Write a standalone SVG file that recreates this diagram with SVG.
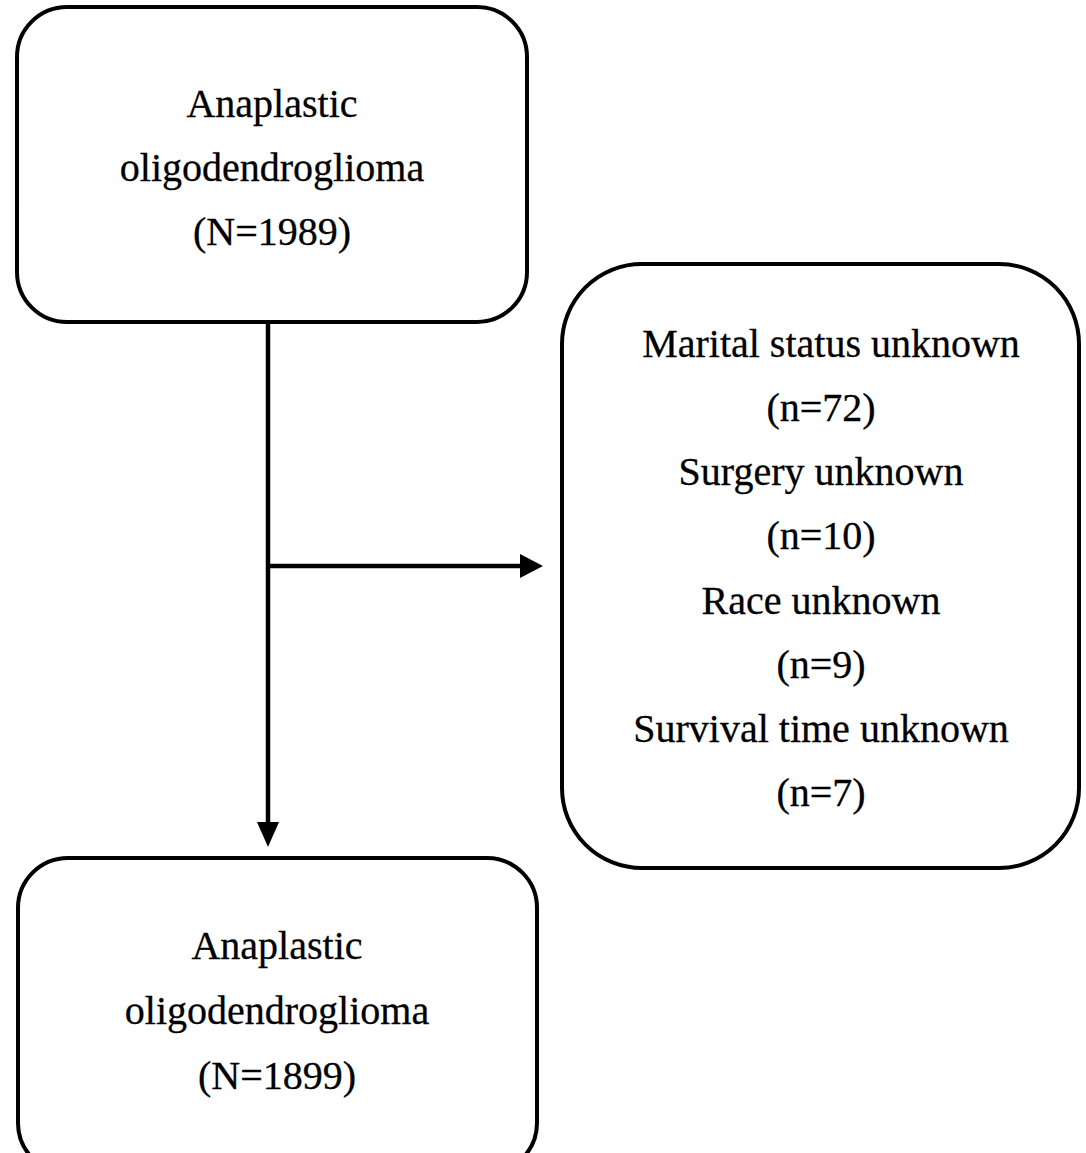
<svg xmlns="http://www.w3.org/2000/svg" width="1086" height="1153" viewBox="0 0 1086 1153">
<style>
.box{fill:#fff;stroke:#000;stroke-width:4}
.ln{stroke:#000;stroke-width:4.5;fill:none}
.ah{fill:#000}
text{font-family:"Liberation Serif","Times New Roman",serif;font-size:40px;fill:#000;stroke:#000;stroke-width:0.3;text-anchor:middle}
</style>
<rect width="1086" height="1153" fill="#fff"/>
<g id="connectors">
<line class="ln" x1="268" y1="322" x2="268" y2="824"/>
<polygon class="ah" points="257,822 279,822 268,847"/>
<line class="ln" x1="268" y1="566" x2="522" y2="566"/>
<polygon class="ah" points="520,554 520,578 543,566"/>
</g>
<g id="node-top">
<rect class="box" x="17" y="7" width="510" height="315" rx="50" ry="50"/>
<text x="272" y="117">Anaplastic</text>
<text x="272" y="181">oligodendroglioma</text>
<text x="272" y="245">(N=1989)</text>
</g>
<g id="node-excluded">
<rect class="box" x="562" y="264" width="517" height="604" rx="80" ry="80"/>
<text x="831" y="357">Marital status unknown</text>
<text x="821" y="421">(n=72)</text>
<text x="821" y="485">Surgery unknown</text>
<text x="821" y="549">(n=10)</text>
<text x="821" y="614">Race unknown</text>
<text x="821" y="678">(n=9)</text>
<text x="821" y="742">Survival time unknown</text>
<text x="821" y="806">(n=7)</text>
</g>
<g id="node-bottom">
<rect class="box" x="18" y="858" width="519" height="315" rx="50" ry="50"/>
<text x="277" y="959">Anaplastic</text>
<text x="277" y="1024">oligodendroglioma</text>
<text x="277" y="1089">(N=1899)</text>
</g>
</svg>
